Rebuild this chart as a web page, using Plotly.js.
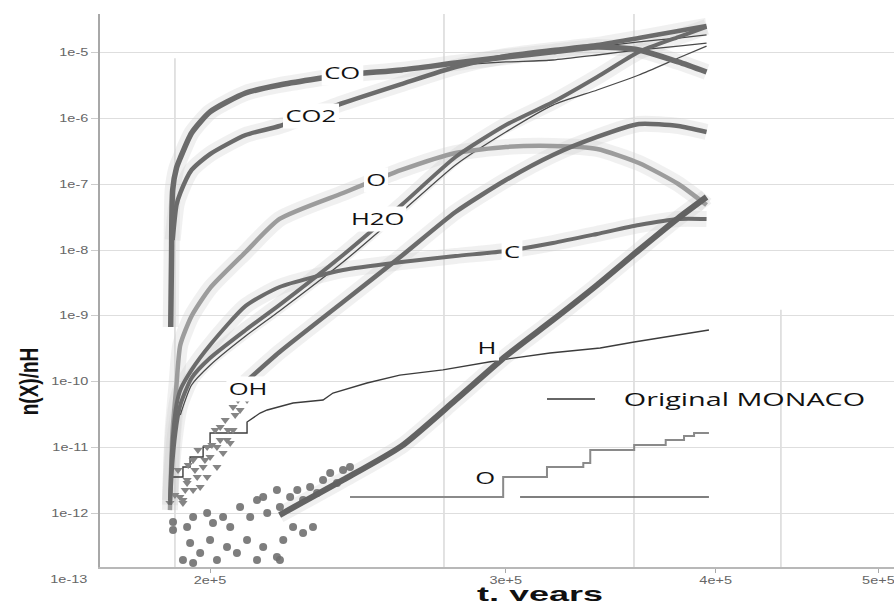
<!DOCTYPE html>
<html><head><meta charset="utf-8">
<script src="https://cdn.plot.ly/plotly-3.0.1.min.js"></script>
<style>html,body{margin:0;padding:0;background:#fff}#chart{width:894px;height:601px}</style>
</head><body><div id="chart"></div>
<script>
// ---------- data (t in years, abundances n(X)/nH) ----------
const coT  = [1.895e5,1.897e5,1.90e5,1.91e5,1.92e5,1.95e5,2.0e5,2.1e5,2.2e5,2.4e5,2.6e5,2.8e5,3.0e5,3.2e5,3.4e5,3.6e5,3.8e5,3.95e5];
const coV  = [6.78e-10,7.08e-9,8.18e-8,1.77e-7,2.51e-7,6.03e-7,1.26e-6,2.44e-6,3.23e-6,4.58e-6,5.46e-6,6.97e-6,8.61e-6,1.03e-5,1.22e-5,1.10e-5,7.23e-6,5.09e-6];
const co2T = [1.90e5,1.91e5,1.92e5,1.95e5,2.0e5,2.1e5,2.2e5,2.4e5,2.6e5,2.8e5,3.0e5,3.2e5,3.4e5,3.6e5,3.8e5,3.95e5];
const co2V = [1.42e-8,4.84e-8,7.38e-8,1.65e-7,2.88e-7,5.61e-7,7.69e-7,1.72e-6,3.34e-6,6.07e-6,8.91e-6,1.10e-5,1.31e-5,1.67e-5,2.14e-5,2.55e-5];
const oT   = [1.893e5,1.895e5,1.90e5,1.91e5,1.92e5,1.95e5,2.0e5,2.1e5,2.2e5,2.4e5,2.6e5,2.8e5,3.0e5,3.2e5,3.4e5,3.6e5,3.8e5,3.95e5];
const oV   = [1.12e-12,3.21e-12,1.85e-11,8.91e-11,3.61e-10,9.98e-10,2.65e-9,9.35e-9,2.97e-8,7.38e-8,1.65e-7,2.99e-7,3.69e-7,3.82e-7,3.44e-7,2.11e-7,1.01e-7,4.84e-8];
const cT   = [1.893e5,1.90e5,1.91e5,1.92e5,1.95e5,2.0e5,2.1e5,2.2e5,2.4e5,2.6e5,2.8e5,3.0e5,3.2e5,3.4e5,3.6e5,3.8e5,3.95e5];
const cV   = [1.59e-12,1.30e-11,4.43e-11,7.48e-11,1.51e-10,3.61e-10,1.42e-9,2.75e-9,4.99e-9,6.59e-9,8.13e-9,9.68e-9,1.28e-8,1.76e-8,2.40e-8,2.97e-8,2.97e-8];
const h2oT = [1.893e5,1.90e5,1.91e5,1.92e5,1.95e5,2.0e5,2.1e5,2.2e5,2.4e5,2.6e5,2.8e5,3.0e5,3.2e5,3.4e5,3.6e5,3.8e5,3.95e5];
const h2oV = [1.34e-12,6.46e-12,2.20e-11,4.43e-11,1.14e-10,2.29e-10,6.11e-10,1.47e-9,8.43e-9,4.84e-8,2.60e-7,7.96e-7,1.78e-6,4.28e-6,1.03e-5,1.73e-5,2.46e-5];
const ohT  = [2.1e5,2.2e5,2.4e5,2.6e5,2.8e5,3.0e5,3.2e5,3.4e5,3.6e5,3.8e5,3.95e5];
const ohV  = [9.91e-11,2.83e-10,1.63e-9,8.13e-9,3.79e-8,1.16e-7,2.79e-7,5.24e-7,8.24e-7,7.69e-7,6.24e-7];
const hT   = [2.2e5,2.4e5,2.6e5,2.8e5,3.0e5,3.2e5,3.4e5,3.6e5,3.8e5,3.95e5];
const hV   = [9.42e-13,3.21e-12,1.05e-11,5.27e-11,2.45e-10,8.67e-10,2.95e-9,1.00e-8,3.07e-8,6.41e-8];

// scattered points (low-abundance noise)
const hScatT = [1.901e5,1.901e5,1.938e5,1.954e5,1.992e5,2.008e5,2.036e5,2.056e5,2.084e5,2.113e5,2.133e5,2.151e5,2.163e5,2.192e5,2.201e5,2.232e5,2.254e5,2.272e5,2.294e5,2.316e5,2.335e5,2.358e5,2.380e5,2.400e5,2.423e5,1.946e5,1.973e5,2.0e5,2.019e5,2.047e5,2.075e5,2.104e5,2.133e5,2.151e5,2.192e5,2.211e5,2.241e5,2.272e5,2.303e5,2.201e5,1.927e5,1.954e5];
const hScatV = [7.38e-13,5.57e-13,6.19e-13,8.79e-13,1.01e-12,7.13e-13,8.79e-13,6.19e-13,1.25e-12,8.79e-13,1.59e-12,1.77e-12,1.01e-12,2.26e-12,1.25e-12,1.77e-12,2.26e-12,1.59e-12,2.51e-12,2.03e-12,3.21e-12,4.09e-12,2.88e-12,4.55e-12,5.05e-12,3.54e-13,2.49e-13,3.93e-13,1.95e-13,3.08e-13,2.49e-13,3.93e-13,1.95e-13,3.08e-13,2.17e-13,3.93e-13,6.19e-13,5.02e-13,6.19e-13,1.95e-13,1.95e-13,1.76e-13];
const ohScatT = [1.893e5,1.919e5,1.927e5,1.938e5,1.954e5,1.965e5,1.973e5,1.981e5,1.992e5,2.0e5,2.019e5,2.019e5,2.047e5,2.036e5,2.064e5,2.056e5,2.064e5,2.028e5,1.992e5,1.954e5,1.938e5,1.927e5,2.104e5,2.084e5,
                 1.906e5,1.914e5,1.933e5,1.941e5,1.959e5,1.967e5,1.986e5,2.005e5,2.014e5,2.028e5,2.042e5,2.050e5,2.070e5,2.078e5,2.093e5];
const ohScatV = [1.44e-12,1.77e-12,1.44e-12,2.88e-12,2.26e-12,3.56e-12,2.51e-12,5.05e-12,3.56e-12,7.16e-12,5.05e-12,1.02e-11,1.30e-11,8.24e-12,1.85e-11,1.17e-11,4.12e-11,2.05e-11,1.02e-11,6.46e-12,3.21e-12,1.59e-12,5.27e-11,3.72e-11,
                 1.90e-12,4.55e-12,2.26e-12,5.42e-12,4.55e-12,9.16e-12,6.46e-12,1.09e-11,1.85e-11,1.30e-11,2.62e-11,1.85e-11,3.12e-11,5.27e-11,6.28e-11];

// original MONACO (thin lines)
const h2oOrigT = [1.92e5,1.95e5,2.0e5,2.1e5,2.2e5,2.4e5,2.6e5,2.8e5,3.0e5,3.2e5,3.4e5,3.6e5,3.8e5,3.95e5];
const h2oOrigV = [3.12e-11,8.91e-11,1.78e-10,4.95e-10,1.19e-9,6.59e-9,3.79e-8,1.97e-7,6.24e-7,1.60e-6,2.71e-6,4.58e-6,8.30e-6,1.26e-5];
const coOrigT  = [2.8e5,3.0e5,3.2e5,3.4e5,3.6e5,3.8e5,3.95e5];
const coOrigV  = [6.97e-6,8.30e-6,9.89e-6,1.22e-5,1.46e-5,1.67e-5,1.86e-5];
const co2OrigT = [2.8e5,3.0e5,3.2e5,3.4e5,3.6e5,3.8e5,3.95e5];
const co2OrigV = [6.50e-6,7.23e-6,7.74e-6,9.23e-6,1.10e-5,1.26e-5,1.40e-5];
const hOrigT = [1.899e5,1.927e5,1.927e5,1.946e5,1.946e5,1.981e5,1.981e5,2.0e5,2.0e5,2.104e5,2.104e5,2.142e5,2.163e5,2.241e5,2.335e5,2.367e5,2.480e5,2.594e5,2.752e5,2.978e5,3.187e5,3.414e5,3.577e5,3.963e5];
const hOrigV = [3.56e-12,3.56e-12,5.05e-12,5.05e-12,7.16e-12,7.16e-12,1.02e-11,1.02e-11,1.66e-11,1.66e-11,2.44e-11,3.34e-11,3.72e-11,4.74e-11,5.27e-11,6.73e-11,9.55e-11,1.26e-10,1.51e-10,2.14e-10,2.73e-10,3.25e-10,4.01e-10,6.11e-10];
const oOrigT = [2.423e5,2.989e5,3.174e5,3.336e5,3.368e5,3.577e5,3.735e5,3.830e5,3.883e5,3.963e5];
const oOrigV = [1.77e-12,3.56e-12,5.05e-12,5.81e-12,9.16e-12,1.09e-11,1.30e-11,1.50e-11,1.66e-11,1.66e-11];
const oOrig2T = [3.059e5,3.963e5];
const oOrig2V = [1.77e-12,1.77e-12];

// axis ticks
const xTickVals = [2e5,3e5,4e5,5e5];
const xTickText = ['2e+5','3e+5','4e+5','5e+5'];
const yTickVals = [1e-12,1e-11,1e-10,1e-9,1e-8,1e-7,1e-6,1e-5];
const yTickText = ['1e-12','1e-11','1e-10','1e-9','1e-8','1e-7','1e-6','1e-5'];
const gridT = [1.906e5,2.756e5,3.576e5,4.374e5];
const speciesLabels = ['CO','CO2','O','H2O','C','H','OH','O'];

// ---------- styling / layout ----------
const labelPos = [[0.3048,0.8933],[0.2657,0.8156],[0.3476,0.6998],[0.3489,0.6293],[0.5189,0.5696],[0.4874,0.3960],[0.1864,0.3219],[0.4849,0.1609]];
const gridTop = [0.92,1,1,0.465];
const DARK = '#6b6b6b', LIGHT = '#9c9c9c', THIN = '#4a4a4a', HALO = 'rgba(205,205,205,0.3)';

function line(x, y, color, width, shape) {
  return {type:'scatter', mode:'lines', x:x, y:y, hoverinfo:'skip', showlegend:false,
          line:{color:color, width:width, shape:shape || 'spline', smoothing:0.6}};
}
const mainSets = [[coT,coV],[co2T,co2V],[oT,oV],[cT,cV],[h2oT,h2oV],[ohT,ohV],[hT,hV]];
const traces = [];
mainSets.forEach(s => traces.push(line(s[0], s[1], HALO, 16)));
traces.push(line(h2oOrigT, h2oOrigV, THIN, 1.3));
traces.push(line(coOrigT, coOrigV, THIN, 1.3));
traces.push(line(co2OrigT, co2OrigV, THIN, 1.3));
traces.push(line(hOrigT, hOrigV, '#3c3c3c', 1.4, 'linear'));
traces.push({type:'scatter', mode:'lines', x:oOrigT, y:oOrigV, hoverinfo:'skip', showlegend:false, line:{color:'#8a8a8a', width:2, shape:'hv'}});
traces.push(line(oOrig2T, oOrig2V, '#555', 1.4, 'linear'));
traces.push({type:'scatter', mode:'markers', x:ohScatT, y:ohScatV, hoverinfo:'skip', showlegend:false,
             marker:{symbol:'triangle-down', size:8, color:'#858585'}});
traces.push({type:'scatter', mode:'markers', x:hScatT, y:hScatV, hoverinfo:'skip', showlegend:false,
             marker:{symbol:'circle', size:8, color:'#707070', opacity:0.9}});
traces.push(line(oT, oV, LIGHT, 4.5));
traces.push(line(cT, cV, DARK, 4));
traces.push(line(ohT, ohV, DARK, 4.5));
traces.push(line(h2oT, h2oV, DARK, 4));
traces.push(line(co2T, co2V, DARK, 4.5));
traces.push(line(coT, coV, DARK, 5.5));
traces.push(line(hT, hV, '#626262', 6));

const annFont = {family:'"Open Sans", sans-serif', size:16, color:'#111'};
const annotations = speciesLabels.map((t, i) => ({
  xref:'paper', yref:'paper', x:labelPos[i][0], y:labelPos[i][1], xanchor:'center', yanchor:'middle',
  text:t, showarrow:false, font:annFont, bgcolor:'white', borderpad:1
}));
annotations.push({xref:'paper', yref:'paper', x:0.8111, y:0.3038, xanchor:'center', yanchor:'middle',
  text:'Original MONACO', showarrow:false, font:{family:'"Open Sans", sans-serif', size:18, color:'#111'}});
annotations.push({xref:'paper', yref:'paper', x:0.5542, y:-0.0495, xanchor:'center', yanchor:'middle',
  text:'<b>t, years</b>', showarrow:false, font:{family:'"Liberation Sans", Arial, sans-serif', size:20, color:'#111'}});
annotations.push({xref:'paper', yref:'paper', x:-0.0894, y:0.3345, xanchor:'center', yanchor:'middle', textangle:-90,
  text:'<b>n(X)/nH</b>', showarrow:false, font:{family:'"Liberation Sans", Arial, sans-serif', size:20, color:'#111'}});
annotations.push({xref:'paper', yref:'paper', x:-0.012, y:-0.0217, xanchor:'right', yanchor:'middle',
  text:'1e-13', showarrow:false, font:{family:'"Liberation Sans", Arial, sans-serif', size:10, color:'#666'}});
// horizontal (sx) and vertical (sy) glyph stretch per annotation, in the text's own frame
const annStretch = [[1.6,1],[1.6,1],[1.6,1],[1.6,1],[1.6,1],[1.6,1],[1.6,1],[1.6,1],[1.6,1],[1.8,1.05],[0.95,1.25],[1.45,1]];

const shapes = gridT.map((t, i) => ({type:'line', xref:'x', yref:'paper', x0:t, x1:t, y0:0, y1:gridTop[i],
  line:{color:'#d9d9d9', width:1.5}, layer:'below'}));
shapes.push({type:'line', xref:'paper', yref:'paper', x0:0.5630, x1:0.6234, y0:0.3038, y1:0.3038, line:{color:'#333', width:1.5}});

const layout = {
  width:894, height:601, margin:{l:100, r:0, t:14, b:34},
  paper_bgcolor:'#fff', plot_bgcolor:'#fff', showlegend:false,
  xaxis:{type:'log', range:[5.2355, 5.7082], tickvals:xTickVals, ticktext:xTickText, showgrid:false, zeroline:false,
         showline:true, linecolor:'#b8b8b8', linewidth:1.5, ticks:'outside', ticklen:4, tickcolor:'#aaa',
         tickfont:{family:'"Liberation Sans", Arial, sans-serif', size:10, color:'#666'}},
  yaxis:{type:'log', range:[-12.816, -4.412], tickvals:yTickVals, ticktext:yTickText, showgrid:true, gridcolor:'#dedede', gridwidth:1.2,
         zeroline:false, showline:true, linecolor:'#a8a8a8', linewidth:2.5, ticks:'outside', ticklen:7, tickcolor:'#ccc',
         tickfont:{family:'"Liberation Sans", Arial, sans-serif', size:10, color:'#666'}},
  annotations:annotations, shapes:shapes
};

function stretch(el, sx, sy, anchor) {
  if (!el || (sx === 1 && sy === 1)) return;
  const b = el.getBBox();
  const cx = anchor === 'right' ? b.x + b.width : b.x + b.width / 2;
  const cy = b.y + b.height / 2;
  const orig = el.getAttribute('transform') || '';
  el.setAttribute('transform', orig + ' translate(' + cx + ',' + cy + ') scale(' + sx + ',' + sy + ') translate(' + (-cx) + ',' + (-cy) + ')');
}

Plotly.newPlot('chart', traces, layout, {staticPlot:true}).then(() => {
  document.querySelectorAll('g.annotation').forEach(g => {
    const i = +g.getAttribute('data-index');
    const s = annStretch[i] || [1,1];
    const anchor = i === 11 ? 'right' : 'center';
    stretch(g.querySelector('rect.bg'), s[0], s[1], anchor);
    stretch(g.querySelector('text.annotation-text'), s[0], s[1], anchor);
  });
  document.querySelectorAll('.ytick text').forEach(t => stretch(t, 1.45, 1, 'right'));
  document.querySelectorAll('.xtick text').forEach(t => stretch(t, 1.45, 1, 'center'));
});
</script></body></html>
